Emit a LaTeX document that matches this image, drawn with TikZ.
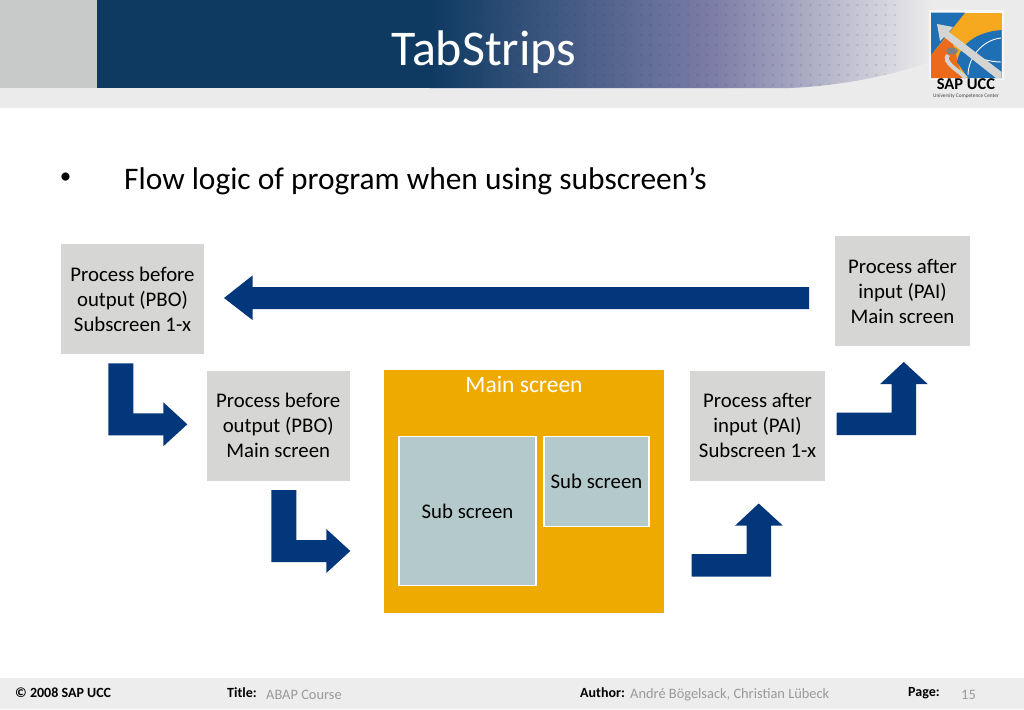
\documentclass[tikz,border=0pt]{standalone}
\usepackage{fontspec}
\setmainfont{Carlito}
\definecolor{bannerblue}{HTML}{0E3A62}
\definecolor{bannermid}{HTML}{7F7FA8}
\definecolor{bandgray}{HTML}{EBEBEC}
\definecolor{sidegray}{HTML}{C8CACA}
\definecolor{boxgray}{HTML}{D6D6D4}
\definecolor{arrowblue}{HTML}{02377C}
\definecolor{mainorange}{HTML}{EFAA00}
\definecolor{subblue}{HTML}{B3C9CC}
\definecolor{footgray}{HTML}{EDEDED}
\definecolor{foottext}{HTML}{9A9A9A}
\definecolor{logoblue}{HTML}{1F6FB4}
\definecolor{logoorange}{HTML}{F6A81E}
\definecolor{logored}{HTML}{EC6A1C}
\definecolor{logogray}{HTML}{D4D4D2}
\tikzset{
    procbox/.style={fill=boxgray,minimum height=110pt,inner sep=0pt,align=center,font=\fontsize{20.8}{25}\selectfont},
    subbox/.style={fill=subblue,draw=white,line width=1.5pt,inner sep=0pt,font=\fontsize{20.8}{24}\selectfont},
    blockarrow/.style={fill=arrowblue},
    foottitle/.style={anchor=west,inner sep=0pt,font=\fontsize{14}{16}\selectfont\bfseries},
    footvalue/.style={anchor=west,inner sep=0pt,text=foottext,font=\fontsize{14.4}{16}\selectfont},
}
% block arrows that turn a corner, given by their free end
\newcommand{\downright}[1]{\path[blockarrow] (#1) -- ++(25,0) -- ++(0,50) -- ++(30,0) -- ++(0,-11) -- ++(24,22) -- ++(-24,22) -- ++(0,-11) -- ++(-55,0) -- cycle;}
\newcommand{\rightup}[1]{\path[blockarrow] (#1) -- ++(55,0) -- ++(0,-28.5) -- ++(-11.5,0) -- ++(23.5,-22) -- ++(24,22) -- ++(-11.5,0) -- ++(0,51) -- ++(-79.5,0) -- cycle;}
\begin{document}
\begin{tikzpicture}[x=1pt,y=-1pt]
\useasboundingbox (0,0) rectangle (1024,709);
% banner
\fill[bandgray] (0,0) rectangle (1024,108);
\fill[sidegray] (0,0) rectangle (97,88);
\begin{scope}
    \clip (97,0) -- (97,88) -- (790,88) .. controls (880,84) and (985,55) .. (1024,0) -- cycle;
    \fill[bannerblue] (97,0) rectangle (430,88);
    \shade[left color=bannerblue,right color=bannermid] (430,0) rectangle (720,88);
    \shade[left color=bannermid,right color=bandgray] (720,0) rectangle (930,88);
    \fill[bandgray] (930,0) rectangle (1024,88);
    \foreach \dx in {0,...,50} \foreach \dy in {0,...,8}
        \fill[bannerblue,opacity=.12] (425+9.4*\dx,5+10*\dy) circle (1.4);
\end{scope}
\node[anchor=base,inner sep=0pt,text=white,font=\fontsize{50}{52}\selectfont] (title) at (484,66) {TabStrips};
% logo
\fill[white,opacity=.6] (929,10) rectangle (1004,80);
\fill[logoorange] (931,12.7) rectangle (1001.7,78);
\fill[logoblue] (931,12.7) -- (965,12.7) -- (931,55) -- cycle;
\fill[logored] (931,55) -- (950,33) -- (962,78) -- (931,78) -- cycle;
\fill[logoblue] (1001.7,30) .. controls (975,32) and (960,45) .. (957,62) -- (968,78) -- (1001.7,78) -- cycle;
\draw[white,line width=.9pt] (1001,38) .. controls (982,40) and (968,58) .. (968,75);
\draw[white,line width=.9pt] (962,50) .. controls (975,58) and (990,62) .. (1001,62);
\fill[logogray] (937,24) -- (953,27) -- (949,32) -- (1001.7,72) -- (1001.7,78) -- (996,78) -- (944,37) -- (940,41) -- cycle;
\draw[logogray,line width=4pt] (948,55) .. controls (942,62) and (958,70) .. (966,78);
\fill[gray] (952,51) ellipse (6 and 3.5);
\node[inner sep=0pt,font=\fontsize{16.5}{17}\selectfont\bfseries] (logoname) at (966,84.5) {SAP UCC};
\node[inner sep=0pt,text=darkgray,font=\fontsize{5.3}{5.5}\selectfont] (logosub) at (966,96.5) {University Competence Center};
% bullet line
\node[inner sep=0pt,font=\fontsize{23}{25}\selectfont] (bullet) at (65.5,178) {•};
\node[anchor=base west,inner sep=0pt,font=\fontsize{31.4}{33}\selectfont] (heading) at (124,189.5) {Flow logic of program when using subscreen’s};
% process boxes
\node[procbox,minimum width=143pt] (pbosub) at (132.5,299) {Process before\\output (PBO)\\Subscreen 1-x};
\node[procbox,minimum width=143pt] (pbomain) at (278.2,425.7) {Process before\\output (PBO)\\Main screen};
\node[procbox,minimum width=135pt] (paisub) at (757.5,425.7) {Process after\\input (PAI)\\Subscreen 1-x};
\node[procbox,minimum width=135pt] (paimain) at (902.5,291) {Process after\\input (PAI)\\Main screen};
% main screen
\node[fill=mainorange,minimum width=280pt,minimum height=243pt,inner sep=0pt] (mainscreen) at (524,491.5) {};
\node[inner sep=0pt,text=white,font=\fontsize{23.5}{26}\selectfont] (maintitle) at (524,384.5) {Main screen};
\node[subbox,minimum width=137pt,minimum height=149pt] (subleft) at (467.5,511) {Sub screen};
\node[subbox,minimum width=105pt,minimum height=90pt] (subright) at (596.5,481.5) {Sub screen};
% arrows
\coordinate (backstart) at (809,287);
\coordinate (pboturn) at (108.3,363.3);
\coordinate (mainturn) at (271.3,490);
\coordinate (subturn) at (691.7,554);
\coordinate (paiturn) at (836.7,412.5);
\path[blockarrow] (backstart) -- (252.5,287) -- (252.5,275.5) -- (224,298) -- (252.5,320) -- (252.5,309) -- (809,309) -- cycle;
\downright{pboturn}
\downright{mainturn}
\rightup{subturn}
\rightup{paiturn}
% footer
\fill[footgray] (0,678) rectangle (1024,709);
\node[foottitle] (copyright) at (15,693) {© 2008 SAP UCC};
\node[foottitle] (titlekey) at (227,693) {Title:};
\node[footvalue] (titleval) at (266,694.5) {ABAP Course};
\node[foottitle] (authorkey) at (580,693) {Author:};
\node[footvalue] (authorval) at (630,694.5) {André Bögelsack, Christian Lübeck};
\node[foottitle] (pagekey) at (908,693) {Page:};
\node[footvalue] (pageval) at (961,695) {15};
\end{tikzpicture}
\end{document}
